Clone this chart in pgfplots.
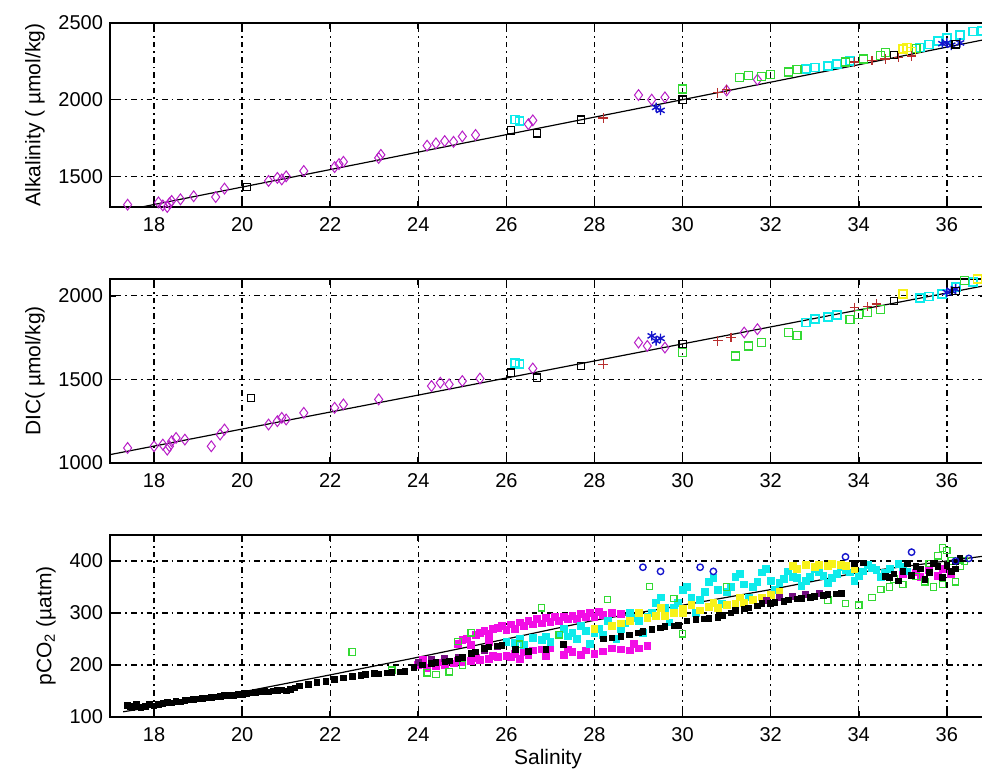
\documentclass[border=0pt]{standalone}
\usepackage{fontspec}
\setmainfont{Liberation Sans}
\usepackage{pgfplots}
\pgfplotsset{compat=1.18}
\definecolor{mpurple}{rgb}{0.72,0.12,0.78}
\definecolor{mred}{rgb}{0.72,0.18,0.18}
\definecolor{mblue}{rgb}{0.08,0.08,0.8}
\definecolor{mcyan}{rgb}{0.05,0.92,0.92}
\definecolor{mgreen}{rgb}{0.2,0.85,0.2}
\definecolor{myellow}{rgb}{0.97,0.95,0.1}
\definecolor{mmag}{rgb}{0.95,0.05,0.9}
\definecolor{mdpurple}{rgb}{0.45,0.05,0.5}
\pgfplotsset{
  panel/.style={
    scale only axis, width=438pt, height=92pt,
    xmin=17, xmax=36.89, xtick={18,20,...,36},
    anchor=south west,
    grid=major,
    grid style={black, line width=0.7pt, dash pattern=on 0.9pt off 2pt on 2.8pt off 2pt},
    axis line style={black, line width=0.8pt},
    tick style={black, line width=0.8pt},
    major tick length=3.2pt,
    tick align=inside,
    tick label style={font=\fontsize{10}{11}\selectfont},
    xticklabel style={yshift=-1.5pt},
    label style={font=\fontsize{10.5}{12}\selectfont},
    /pgf/number format/assume math mode=true,
    /pgf/number format/set thousands separator={},
    scaled ticks=false,
    clip=true,
  },
  dia/.style={only marks, mark=diamond, mark size=2.7pt, mpurple, mark options={line width=0.5pt}},
  sq/.style={only marks, mark=square, mark size=1.8pt, black, mark options={line width=0.6pt}},
  pl/.style={only marks, mark=+, mark size=2.4pt, mred, mark options={line width=0.6pt}},
  ast/.style={only marks, mark=asterisk, mark size=2.4pt, mblue, mark options={line width=0.7pt}},
  cy/.style={only marks, mark=square, mark size=2pt, mcyan, mark options={line width=0.9pt}},
  gr/.style={only marks, mark=square, mark size=2pt, mgreen, mark options={line width=0.6pt}},
  ye/.style={only marks, mark=square, mark size=2pt, myellow, mark options={line width=0.8pt}},
  fitline/.style={black, line width=0.6pt, no marks},
}
\begin{document}
\begin{tikzpicture}
\useasboundingbox (0,0) rectangle (491pt,389pt);
% ---------------- Panel 1: Alkalinity
\begin{axis}[panel, at={(55pt,285.5pt)}, ymin=1300, ymax=2500, ytick={1500,2000,2500},
  ylabel={Alkalinity ( µmol/kg)}]
\addplot[fitline] coordinates {(17,1259) (20,1430) (24,1658) (28,1886) (30,2000) (34,2228) (36.9,2394)};
\addplot[dia] coordinates {(17.4,1315)(18.1,1330)(18.2,1310)(18.3,1300)(18.35,1325)(18.4,1340)(18.6,1350)(18.9,1370)(19.4,1365)(19.6,1420)(20.6,1470)(20.8,1490)(20.9,1480)(21.0,1500)(21.4,1535)(22.1,1560)(22.2,1580)(22.3,1595)(23.1,1620)(23.15,1640)(24.2,1700)(24.4,1715)(24.6,1730)(24.8,1725)(25.0,1760)(25.3,1770)(26.5,1840)(26.6,1865)(29.0,2030)(29.3,2000)(29.6,2015)(31.0,2060)(31.7,2130)}; 
\addplot[cy] coordinates {(26.2,1870)(26.3,1860)(32.8,2200)(33.0,2210)(33.3,2220)(33.5,2235)(33.8,2250)(35.4,2340)(35.6,2360)(35.8,2385)(36.0,2400)(36.3,2420)(36.6,2445)(36.8,2450)};
\addplot[gr] coordinates {(30.0,2070)(31.3,2145)(31.5,2155)(31.8,2150)(32.0,2165)(32.4,2180)(32.6,2195)(33.7,2245)(34.1,2265)(34.5,2290)(34.6,2305)(35.3,2335)};
\addplot[ye] coordinates {(35.0,2330)(35.2,2315)(35.1,2340)};
\addplot[pl] coordinates {(28.2,1880)(30.8,2045)(31.0,2065)(33.9,2245)(34.3,2255)(34.6,2265)(34.9,2275)(35.2,2285)};
\addplot[ast] coordinates {(29.4,1950)(29.5,1930)(35.9,2365)(36.0,2370)(36.1,2355)(36.3,2370)};
\addplot[sq] coordinates {(20.1,1430)(26.1,1800)(26.7,1780)(27.7,1870)(30.0,2000)(34.8,2290)(36.2,2360)};
\end{axis}
% ---------------- Panel 2: DIC
\begin{axis}[panel, at={(55pt,157.5pt)}, ymin=1000, ymax=2100, ytick={1000,1500,2000},
  ylabel={DIC( µmol/kg)}]
\addplot[fitline] coordinates {(17,1050) (20,1203) (24,1406) (28,1610) (30,1712) (34,1915) (36.9,2062)};
\addplot[dia] coordinates {(17.4,1090)(18.0,1100)(18.2,1110)(18.3,1080)(18.35,1100)(18.4,1130)(18.5,1150)(18.7,1140)(19.3,1100)(19.5,1170)(19.6,1200)(20.6,1230)(20.8,1250)(20.9,1270)(21.0,1260)(21.4,1300)(22.1,1330)(22.3,1350)(23.1,1380)(24.3,1460)(24.5,1480)(24.7,1470)(25.0,1490)(25.4,1505)(26.6,1565)(29.0,1720)(29.2,1700)(29.6,1690)(31.4,1780)(31.7,1800)};
\addplot[cy] coordinates {(26.2,1600)(26.3,1590)(32.8,1840)(33.0,1860)(33.3,1875)(33.5,1885)(35.4,1985)(35.6,1995)(35.9,2010)(36.2,2050)(36.6,2080)};
\addplot[gr] coordinates {(30.0,1660)(31.2,1640)(31.5,1700)(31.8,1720)(32.4,1780)(32.6,1760)(33.8,1860)(34.0,1890)(34.2,1900)(34.5,1920)(36.4,2090)};
\addplot[ye] coordinates {(35.0,2010)(36.7,2100)};
\addplot[pl] coordinates {(28.2,1590)(30.8,1730)(31.1,1750)(33.9,1930)(34.2,1935)(34.4,1950)};
\addplot[ast] coordinates {(29.3,1760)(29.5,1745)(29.4,1730)(36.0,2020)(36.2,2040)(36.1,2030)};
\addplot[sq] coordinates {(20.2,1390)(26.1,1540)(26.7,1510)(27.7,1580)(30.0,1710)(34.8,1970)(36.2,2030)};
\end{axis}
% ---------------- Panel 3: pCO2
\begin{axis}[panel, at={(55pt,30.5pt)}, height=91pt, ymin=100, ymax=450, ytick={100,200,300,400},
  ylabel={pCO\textsubscript{2} (µatm)}, xlabel={Salinity}, xlabel style={yshift=3pt}]
\addplot[only marks, mark=square*, mark size=1.7pt, mmag] coordinates {
(24.9,240)(25.1,250)(25.3,258)(25.5,265)(25.7,270)(25.9,275)(26.1,278)(26.3,282)(26.5,285)(26.7,288)(26.9,290)(27.1,292)(27.3,293)(27.5,295)(27.7,298)(27.9,300)(28.1,302)(25.6,260)(26.0,268)(26.4,275)(26.8,280)(27.2,285)(27.6,288)(28.0,292)
(25.0,248)(25.4,262)(25.8,272)(26.2,270)(26.6,278)(27.0,283)(27.4,288)(27.8,292)(28.2,296)(28.4,300)(28.6,298)(25.2,238)(25.6,245)
(24.0,200)(24.2,195)(24.4,198)(24.6,200)(24.8,203)(25.0,205)(25.2,208)(25.4,210)(25.6,212)(25.8,215)(26.0,218)(26.2,222)(26.4,225)(26.6,228)(26.8,230)(27.0,232)(27.5,225)(27.8,228)(28.2,226)(28.6,230)(29.0,232)(29.2,236)(26.3,212)(26.9,218)(27.3,220)(28.9,240)
(24.1,210)(24.5,205)(24.9,208)(25.3,213)(25.7,218)(26.1,215)(26.5,220)(26.9,225)(27.4,230)(27.7,220)(28.0,222)(28.4,232)(28.8,228)
(35.0,375)(35.3,378)(35.6,382)(35.9,385)(36.1,375)(35.4,370)(35.8,372)};
\addplot[only marks, mark=square*, mark size=1.7pt, mcyan] coordinates {
(26.0,245)(26.3,250)(26.6,252)(26.9,255)(27.2,258)(27.5,262)(27.8,265)(28.1,270)(28.4,275)(28.7,280)(29.0,285)(29.3,300)(29.6,310)(29.9,320)(30.2,330)(30.5,340)(30.8,345)(31.1,350)(31.4,355)(31.7,360)(32.0,362)(32.3,365)(32.6,368)(32.9,370)(33.2,372)(33.5,375)(33.8,378)(34.1,380)(34.4,383)(34.7,385)(35.0,388)
(26.4,238)(27.0,245)(27.6,250)(28.2,258)(28.8,300)(29.4,320)(30.0,345)(30.6,360)(31.2,370)(31.8,378)(32.4,380)(33.0,385)(33.6,388)(34.2,392)
(27.9,240)(28.5,250)(29.1,262)(29.7,282)(30.3,300)(30.9,318)(31.5,330)(32.1,345)(32.7,352)(33.3,358)(33.9,362)(34.5,370)
(26.2,242)(26.8,248)(27.4,255)(28.0,262)(28.6,270)(29.2,292)(29.8,310)(30.4,325)(31.0,340)(31.6,350)(32.2,358)(32.8,362)(33.4,368)(34.0,372)(34.6,378)(35.1,380)(29.5,330)(30.1,350)(30.7,368)(31.3,375)(31.9,385)(32.5,370)(33.1,378)(33.7,382)(34.3,387)(34.9,395)(27.3,270)(27.7,275)(28.3,285)(28.9,290)};
\addplot[only marks, mark=square*, mark size=1.7pt, myellow] coordinates {
(28.0,270)(28.4,275)(28.8,285)(29.2,290)(29.6,295)(30.0,300)(30.4,305)(30.8,310)(31.2,318)(31.6,325)(32.0,335)(29.0,300)(29.5,310)(30.2,315)(30.7,320)(31.3,330)(32.5,390)(32.8,392)(33.1,393)(33.4,395)(33.7,390)
(29.8,300)(30.6,312)(31.0,315)(31.4,320)(31.8,330)(32.2,340)(28.6,280)(29.4,295)(30.0,308)(32.6,385)(33.0,388)(33.3,390)(33.6,392)(33.9,385)};
\addplot[only marks, mark=square*, mark size=1.5pt, mdpurple] coordinates {
(24.0,205)(24.3,210)(24.6,212)(24.9,215)(25.2,222)(25.5,228)(25.8,235)(31.9,325)(32.2,330)(32.5,332)(32.8,335)(33.1,338)};
\addplot[only marks, mark=square, mark size=1.6pt, mgreen, mark options={line width=0.6pt}] coordinates {
(22.5,225)(23.4,190)(24.2,185)(24.4,182)(24.7,187)(24.9,245)(25.2,262)(25.0,200)(26.3,240)(26.8,310)(27.2,258)(28.3,326)(29.25,351)(29.8,328)(30.0,260)(31.0,350)(33.3,325)(33.7,318)(34.0,315)(34.3,330)(34.5,345)(34.7,350)(35.6,395)(35.8,410)(36.0,420)(35.9,355)(36.2,360)(36.1,400)(35.7,350)(36.3,390)(34.8,365)(35.0,355)(35.3,370)(35.5,360)(36.4,400)(35.9,425)};
\addplot[only marks, mark=square*, mark size=1.4pt, black] coordinates {
(17.4,122)(17.5,118)(17.6,125)(17.8,120)(17.9,124)(18.0,121)(18.3,128)(18.5,130)(18.7,132)(18.9,134)(19.1,136)(19.3,138)(19.5,140)(19.7,142)(19.9,143)(20.1,145)(20.3,147)(20.5,149)(20.7,150)(20.9,152)(21.1,153)(21.3,160)(21.7,166)(22.1,172)(22.5,178)(22.8,182)(23.1,183)(23.4,186)(23.7,188)(24.1,200)(24.4,205)(24.7,208)(25.0,215)(25.3,225)(25.6,235)(25.9,238)(26.2,230)(26.5,226)(26.9,230)(27.3,240)(28.2,250)(28.6,255)(29.0,262)(29.3,268)(29.6,274)(29.9,276)(30.3,288)(30.6,290)(30.9,295)(31.2,305)(31.5,310)(31.8,318)(32.1,320)(32.4,325)(32.7,328)(33.0,332)(33.3,336)(33.6,338)
(17.45,120)(17.55,121)(17.7,119)(18.1,124)(18.2,126)(18.4,127)(18.6,129)(18.8,133)(19.0,135)(19.2,137)(19.4,139)(19.6,141)(19.8,142)(20.0,144)(20.2,146)(20.4,148)(20.6,148)(20.8,151)(21.0,150)(21.2,156)(21.5,163)(21.9,168)(22.3,175)(22.7,180)(23.0,184)(23.3,185)(23.6,187)(23.9,195)(24.3,203)(24.6,206)(24.9,212)(25.2,222)(25.5,232)(25.8,237)(28.4,252)(28.8,258)(29.1,265)(29.5,271)(29.8,275)(30.1,285)(30.5,289)(30.8,292)(31.1,300)(31.4,308)(31.7,314)(32.0,318)(32.3,322)(32.6,327)(32.9,330)(33.2,334)(33.5,337)
(34.6,370)(34.8,375)(35.0,380)(35.2,372)(35.4,385)(35.6,378)(35.8,390)(36.0,392)(36.2,398)(36.3,405)(35.1,395)(35.5,365)(35.9,368)(36.1,380)(34.9,362)(33.9,395)(34.1,396)(34.7,368)(35.3,390)(35.7,395)(36.2,385)};
\addplot[only marks, mark=o, mark size=1.6pt, mblue, mark options={line width=0.7pt}] coordinates {
(29.1,388)(29.5,380)(30.4,388)(30.7,380)(33.7,408)(35.2,417)(36.5,405)(36.2,400)};
\addplot[fitline] coordinates {(17.3,110)(20,148)(22,181)(24,215)(26,250)(28,286)(30,315)(32,345)(34,378)(36.9,410)};
\end{axis}
\end{tikzpicture}
\end{document}
